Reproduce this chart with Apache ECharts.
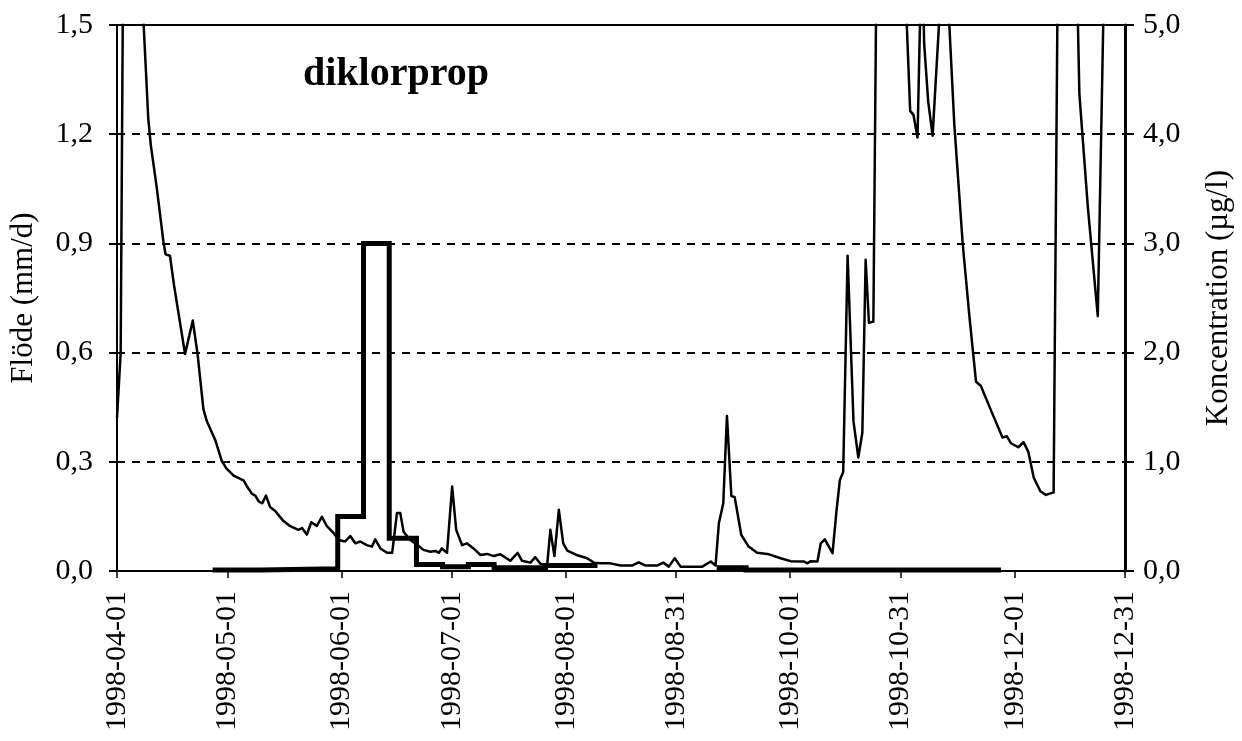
<!DOCTYPE html>
<html>
<head>
<meta charset="utf-8">
<title>diklorprop</title>
<script src="https://cdn.jsdelivr.net/npm/echarts@6/dist/echarts.min.js"></script>
<style>
html,body{margin:0;padding:0;background:#fff;}
#chart{width:1242px;height:741px;}
</style>
</head>
<body>
<div id="chart"></div>
<script>
// x = dagar efter 1998-04-01
var startDate='1998-04-01';
var tickLabels=['1998-04-01','1998-05-01','1998-06-01','1998-07-01','1998-08-01','1998-08-31','1998-10-01','1998-10-31','1998-12-01','1998-12-31'];

// flöde (mm/d), värden över 1,5 ligger utanför diagrammet
var flowDay=[0,1,2,3,4,5,6,7,8.5,9.2,10.8,12.6,13.2,14.4,15.5,18.5,20.6,21.9,23.5,24.4,26.7,28.5,29.8,31.7,34.4,35.3,36.7,37.6,38.5,39.5,40.5,41.6,43,45.1,47.1,49.3,50.3,51.6,52.8,54.3,55.7,57,58.9,60.2,62,63.4,64.8,66.1,67.9,69.3,70.2,71.6,73.4,74.8,76.1,77,77.9,79.7,81.1,83.3,85.2,86.5,87.5,88.3,89.7,91.1,92.2,93.8,95.1,96.9,98.8,100.6,102.4,104.2,106.9,108.9,110.1,112.4,113.7,115.1,116.9,117.8,118.9,120.1,121.3,122.4,123.7,124.9,127.8,129.6,131.4,134.1,136.9,140,141.8,143.7,146.8,148.5,150,151.6,153.2,155,159.1,161.4,162.7,163.6,164.8,165.8,167,167.9,169.7,171.7,174,176.8,180.4,183.1,186.8,187.6,188.6,190.4,191.3,192.4,194.5,195.6,196.5,197.4,198.6,200.2,201.5,202.6,203.5,204.4,205.6,207,209,211,213,214,215.6,216.5,217.6,218.8,219.4,220.5,221.7,224,225,226,227.6,229.9,231.7,233.5,234.8,238,240.7,241.9,243,245,246.4,247.7,249.2,251,252.5,254.6,256,258,260,261,261.6,263.9,266.6,269,271,274];
var flowVal=[0.42,0.6,2.2,2.6,2.5,2.1,1.8,1.55,1.243,1.169,1.054,0.906,0.87,0.866,0.785,0.596,0.688,0.596,0.444,0.412,0.36,0.302,0.281,0.262,0.249,0.233,0.212,0.207,0.191,0.186,0.207,0.176,0.165,0.139,0.123,0.113,0.118,0.1,0.134,0.124,0.149,0.124,0.104,0.085,0.081,0.096,0.076,0.081,0.071,0.067,0.087,0.062,0.05,0.05,0.159,0.159,0.108,0.085,0.076,0.058,0.053,0.055,0.05,0.062,0.05,0.232,0.113,0.071,0.076,0.062,0.044,0.047,0.041,0.046,0.028,0.05,0.028,0.023,0.038,0.02,0.014,0.113,0.041,0.168,0.076,0.056,0.05,0.044,0.035,0.023,0.021,0.021,0.015,0.015,0.024,0.015,0.015,0.023,0.012,0.035,0.012,0.012,0.012,0.026,0.015,0.131,0.186,0.426,0.206,0.203,0.099,0.067,0.05,0.047,0.035,0.027,0.026,0.021,0.027,0.026,0.076,0.087,0.049,0.168,0.25,0.272,0.866,0.411,0.312,0.38,0.855,0.682,0.685,2.3,2.8,3.0,2.4,1.68,1.264,1.253,1.191,1.75,1.45,1.29,1.196,1.6,2.0,1.55,1.227,0.897,0.7,0.52,0.509,0.431,0.367,0.37,0.351,0.34,0.354,0.328,0.256,0.219,0.209,0.216,2.0,2.8,2.2,1.6,1.31,1.0,0.7,2.0,2.6,2.4];

// koncentration (µg/l), veckoprov, värdet gäller fram till nästa dag i listan
var concDay=[26,39,60,67,74,81.4,88.5,95.5,102.5,116.5,130.6,130.7,163,171,240.3];
var concVal=[0.01,0.02,0.5,3.0,0.3,0.06,0.04,0.06,0.03,0.05,0.05,null,0.03,0.01,0.01];

var serif='"Liberation Serif","Times New Roman",serif';
var t0=Date.parse(startDate);
var tickDays=tickLabels.map(function(s){return Math.round((Date.parse(s)-t0)/86400000);});

var flowData=flowDay.map(function(d,i){return [d,flowVal[i]];});
var concData=concDay.map(function(d,i){return [d,concVal[i]==null?'-':concVal[i]];});

function komma(v){return v.toFixed(1).replace('.',',');}

var myChart=echarts.init(document.getElementById('chart'));
var option={
    backgroundColor:'#fff',
    animation:false,
    title:{
        text:'diklorprop',
        left:298,
        top:50,
        textStyle:{fontFamily:serif,fontSize:40,fontWeight:'bold',color:'#000'}
    },
    grid:{left:117,right:115,top:25,bottom:170,show:true,borderColor:'#000',borderWidth:2,backgroundColor:'transparent'},
    xAxis:{
        type:'value',
        min:0,
        max:274,
        axisLine:{show:true,lineStyle:{color:'#000',width:2}},
        axisTick:{show:true,length:7,customValues:tickDays,lineStyle:{color:'#000',width:1.5}},
        axisLabel:{
            customValues:tickDays,
            rotate:90,
            margin:20,
            fontFamily:serif,
            fontSize:30,
            color:'#000',
            formatter:function(v){
                var i=tickDays.indexOf(Math.round(v));
                return i<0?'':tickLabels[i];
            }
        },
        splitLine:{show:false}
    },
    yAxis:[
        {
            type:'value',
            min:0,max:1.5,interval:0.3,
            position:'left',
            name:'Flöde (mm/d)',
            nameLocation:'middle',
            nameGap:78,
            nameTextStyle:{fontFamily:serif,fontSize:31,color:'#000'},
            axisLine:{show:true,lineStyle:{color:'#000',width:2}},
            axisTick:{show:true,length:8,lineStyle:{color:'#000',width:2}},
            axisLabel:{margin:24,fontFamily:serif,fontSize:30,color:'#000',formatter:komma},
            splitLine:{show:true,lineStyle:{color:'#000',width:2,type:[8,7]}}
        },
        {
            type:'value',
            min:0,max:5,interval:1,
            position:'right',
            name:'Koncentration (µg/l)',
            nameLocation:'middle',
            nameGap:78,
            nameRotate:90,
            nameTextStyle:{fontFamily:serif,fontSize:31,color:'#000'},
            axisLine:{show:true,lineStyle:{color:'#000',width:3}},
            axisTick:{show:true,length:9,lineStyle:{color:'#000',width:2}},
            axisLabel:{margin:18,fontFamily:serif,fontSize:30,color:'#000',formatter:komma},
            splitLine:{show:false}
        }
    ],
    series:[
        {
            name:'Flöde',
            type:'line',
            yAxisIndex:0,
            data:flowData,
            symbol:'none',
            clip:true,
            lineStyle:{color:'#000',width:2.5,join:'round'},
            z:2
        },
        {
            name:'Koncentration',
            type:'line',
            yAxisIndex:1,
            step:'end',
            data:concData,
            connectNulls:false,
            symbol:'none',
            clip:true,
            lineStyle:{color:'#000',width:5,join:'miter',cap:'butt'},
            z:3
        }
    ]
};
myChart.setOption(option);
</script>
</body>
</html>
